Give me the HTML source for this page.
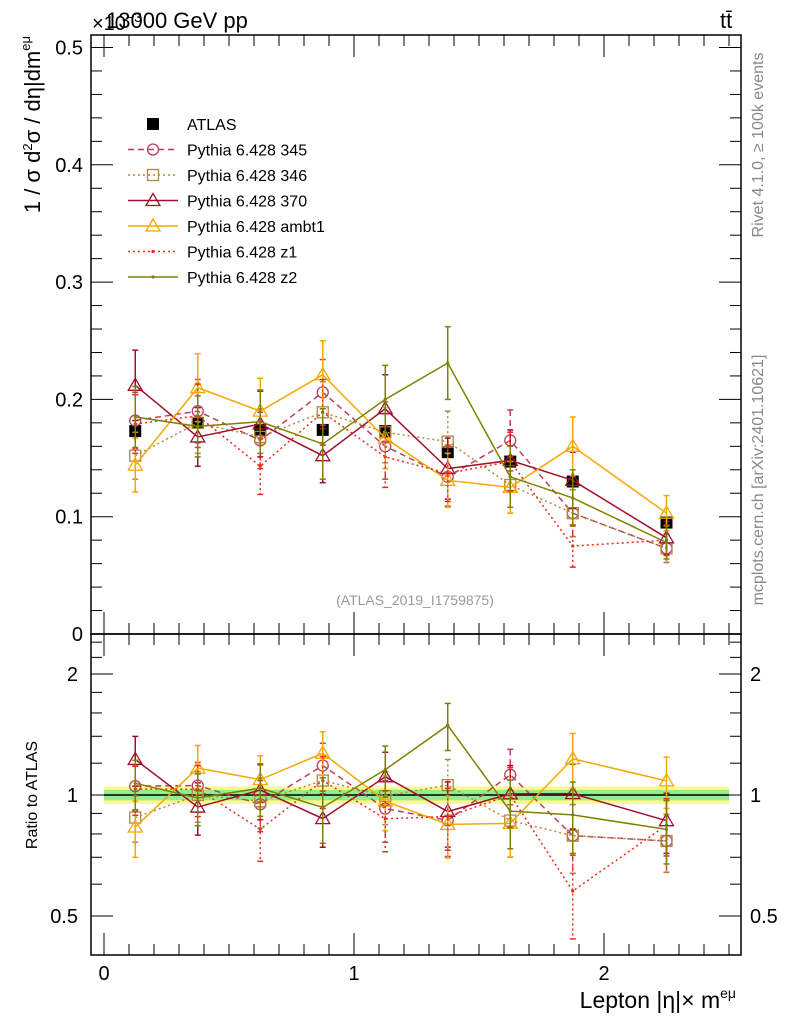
<!DOCTYPE html>
<html><head><meta charset="utf-8"><style>
body{margin:0;background:#fff}
svg{display:block;font-family:"Liberation Sans",sans-serif}
</style></head><body>
<svg id="c" width="786" height="1024" viewBox="0 0 786 1024" xmlns="http://www.w3.org/2000/svg"></svg>
<script>
const xCenters=[0.125,0.375,0.625,0.875,1.125,1.375,1.625,1.875,2.25];
const xHalf=[0.125,0.125,0.125,0.125,0.125,0.125,0.125,0.125,0.25];
const atlas=[0.173,0.180,0.174,0.174,0.173,0.155,0.147,0.130,0.095];
const atlasErr=[0.004,0.004,0.004,0.004,0.004,0.004,0.004,0.004,0.004];
const p345=[0.182,0.190,0.165,0.206,0.160,0.134,0.165,0.103,0.073];
const p345e=[0.024,0.027,0.024,0.028,0.028,0.025,0.026,0.02,0.012];
const p346=[0.152,0.180,0.168,0.189,0.172,0.164,0.127,0.103,0.073];
const p346e=[0.02,0.026,0.024,0.026,0.026,0.026,0.024,0.02,0.012];
const p370=[0.212,0.168,0.179,0.152,0.192,0.141,0.148,0.131,0.082];
const p370e=[0.03,0.025,0.028,0.023,0.029,0.026,0.026,0.024,0.014];
const pambt1=[0.144,0.210,0.190,0.221,0.167,0.131,0.125,0.160,0.103];
const pambt1e=[0.023,0.029,0.028,0.029,0.026,0.023,0.022,0.025,0.015];
const pz1=[0.179,0.186,0.143,0.189,0.151,0.137,0.147,0.075,0.080];
const pz1e=[0.025,0.027,0.024,0.028,0.026,0.024,0.025,0.018,0.013];
const pz2=[0.185,0.177,0.181,0.162,0.200,0.231,0.134,0.116,0.078];
const pz2e=[0.026,0.026,0.027,0.03,0.029,0.031,0.026,0.024,0.014];
const mainTicks=[0,0.1,0.2,0.3,0.4,0.5];
const mainTickLabels=["0","0.1","0.2","0.3","0.4","0.5"];
const ratioTicks=[0.5,1,2];
const ratioTickLabels=["0.5","1","2"];
const xTicks=[0,1,2];
const xTickLabels=["0","1","2"];
const series=[
 {name:"Pythia 6.428 345",v:p345,e:p345e,c:"#b8405a",dash:"6,4",m:"circle"},
 {name:"Pythia 6.428 346",v:p346,e:p346e,c:"#b08840",dash:"2,3",m:"square"},
 {name:"Pythia 6.428 370",v:p370,e:p370e,c:"#a0102a",dash:"",m:"tri"},
 {name:"Pythia 6.428 ambt1",v:pambt1,e:pambt1e,c:"#f5a800",dash:"",m:"tri"},
 {name:"Pythia 6.428 z1",v:pz1,e:pz1e,c:"#ee2a1a",dash:"2,3",m:"dot"},
 {name:"Pythia 6.428 z2",v:pz2,e:pz2e,c:"#808000",dash:"",m:"dot"}
];
const NS="http://www.w3.org/2000/svg";
const svg=document.getElementById('c');
function mk(t,a,p){const e=document.createElementNS(NS,t);for(const k in a)e.setAttribute(k,a[k]);(p||svg).appendChild(e);return e;}
const L=91,R=741,T=35,MB=634,RB=955;
const X=v=>104+250*v;
const Y=v=>634-1173*v;
const YR=r=>795-121*Math.log2(r);
const f1=mk('rect',{x:L,y:T,width:R-L,height:MB-T,fill:'none',stroke:'#000','stroke-width':1.5});

const f2=mk('rect',{x:L,y:MB,width:R-L,height:RB-MB,fill:'none',stroke:'#000','stroke-width':1.5});

for(let v=0;v<=0.5001;v+=0.02){const y=Y(v);const big=Math.abs(v*10-Math.round(v*10))<1e-6;
 mk('line',{x1:L,x2:L+(big?22:11),y1:y,y2:y,stroke:'#000'});mk('line',{x1:R,x2:R-(big?22:11),y1:y,y2:y,stroke:'#000'});}
mainTicks.forEach((v,i)=>{const t=mk('text',{x:83,y:Y(v)+7,'text-anchor':'end','font-size':20});t.textContent=mainTickLabels[i];
 });
for(let v=0;v<=2.55;v+=0.1){const x=X(v);const big=Math.abs(v-Math.round(v))<1e-6;const h=big?22:11;
 mk('line',{x1:x,x2:x,y1:T,y2:T+h,stroke:'#000'});mk('line',{x1:x,x2:x,y1:MB,y2:MB-h,stroke:'#000'});
 mk('line',{x1:x,x2:x,y1:MB,y2:MB+h,stroke:'#000'});mk('line',{x1:x,x2:x,y1:RB,y2:RB-h,stroke:'#000'});}
xTicks.forEach((v,i)=>{const t=mk('text',{x:X(v),y:980,'text-anchor':'middle','font-size':20});t.textContent=xTickLabels[i];
 });
[0.5,0.6,0.7,0.8,0.9,1,1.2,1.4,1.6,1.8,2,2.2,2.4].forEach(r=>{const y=YR(r);const big=ratioTicks.includes(r);
 mk('line',{x1:L,x2:L+(big?22:11),y1:y,y2:y,stroke:'#000'});mk('line',{x1:R,x2:R-(big?22:11),y1:y,y2:y,stroke:'#000'});});
ratioTicks.forEach((r,i)=>{let t=mk('text',{x:78,y:YR(r)+7,'text-anchor':'end','font-size':20});t.textContent=ratioTickLabels[i];
 
 t=mk('text',{x:750,y:YR(r)+7,'font-size':20});t.textContent=ratioTickLabels[i];
 });
const gb=mk('g',{});
xCenters.forEach((x,i)=>{const x0=X(x-xHalf[i]),x1=X(x+xHalf[i]);
 mk('rect',{x:x0,width:x1-x0,y:YR(1.05),height:YR(0.95)-YR(1.05),fill:'#fbfa8c'},gb);
 mk('rect',{x:x0,width:x1-x0,y:YR(1.03),height:YR(0.97)-YR(1.03),fill:'#90ee90'},gb);});
mk('line',{x1:X(0),x2:X(2.5),y1:YR(1),y2:YR(1),stroke:'#000','stroke-width':1.5});
function marker(m,x,y,c,g){
 if(m==='circle')mk('circle',{cx:x,cy:y,r:5.5,fill:'none',stroke:c,'stroke-width':1.3},g);
 else if(m==='square')mk('rect',{x:x-5.5,y:y-5.5,width:11,height:11,fill:'none',stroke:c,'stroke-width':1.3},g);
 else if(m==='tri')mk('polygon',{points:`${x},${y-7} ${x-7},${y+5} ${x+7},${y+5}`,fill:'none',stroke:c,'stroke-width':1.3},g);
 else mk('circle',{cx:x,cy:y,r:1.6,fill:c},g);}
function drawSeries(s,ratio){
 const g=mk('g',{});
 
 
 const fy=ratio?(i=>YR(s.v[i]/atlas[i])):(i=>Y(s.v[i]));
 const fe=ratio?((i,k)=>YR((s.v[i]+k*s.e[i])/atlas[i])):((i,k)=>Y(s.v[i]+k*s.e[i]));
 mk('polyline',{points:xCenters.map((x,i)=>X(x)+','+fy(i)).join(' '),fill:'none',stroke:s.c,'stroke-width':1.5,'stroke-dasharray':s.dash},g);
 xCenters.forEach((x,i)=>{const px=X(x);
  mk('line',{x1:px,x2:px,y1:fe(i,1),y2:fe(i,-1),stroke:s.c,'stroke-width':1.5,'stroke-dasharray':s.dash},g);
  [1,-1].forEach(k=>mk('line',{x1:px-3,x2:px+3,y1:fe(i,k),y2:fe(i,k),stroke:s.c,'stroke-width':1.5},g));
  marker(s.m,px,fy(i),s.c,g);});
}
const ga=mk('g',{});
xCenters.forEach((x,i)=>{mk('rect',{x:X(x)-6,y:Y(atlas[i])-6,width:12,height:12,fill:'#000'},ga);
 mk('line',{x1:X(x),x2:X(x),y1:Y(atlas[i]+atlasErr[i]),y2:Y(atlas[i]-atlasErr[i]),stroke:'#000'},ga);});
series.forEach(s=>{drawSeries(s,false);drawSeries(s,true);});
const lg=mk('g',{});
const rows=[{name:"ATLAS",c:"#000",dash:"",m:"atlas"}].concat(series);
rows.forEach((s,i)=>{const y=124+25.5*i;
 if(s.m==='atlas')mk('rect',{x:147,y:y-6,width:12,height:12,fill:'#000'},lg);
 else{mk('line',{x1:128,x2:178,y1:y,y2:y,stroke:s.c,'stroke-width':1.5,'stroke-dasharray':s.dash},lg);marker(s.m,153,y,s.c,lg);}
 const t=mk('text',{x:187,y:y+6,'font-size':16},lg);t.textContent=s.name;
 });
function txt(s,a,name){const t=mk('text',a);t.innerHTML=s;return t;}
txt('×10<tspan font-size="14" dy="-8">−3</tspan>',{x:92,y:30,'font-size':20},'y-scale-factor');
txt('13000 GeV pp',{x:106,y:28,'font-size':22},'energy-label');
txt('t<tspan>t̄</tspan>',{x:720,y:28,'font-size':22},'process-label');
txt('(ATLAS_2019_I1759875)',{x:415,y:605,'text-anchor':'middle','font-size':14,fill:'#999'},'analysis-id');
txt('Rivet 4.1.0, ≥ 100k events',{x:0,y:0,'font-size':16,fill:'#888','text-anchor':'middle',transform:'translate(763,145) rotate(-90)'},'rivet-label');
txt('mcplots.cern.ch [arXiv:2401.10621]',{x:0,y:0,'font-size':16,fill:'#888','text-anchor':'middle',transform:'translate(763,480) rotate(-90)'},'mcplots-label');
txt('1 / σ  d<tspan font-size="13" dy="-8">2</tspan><tspan dy="8">σ / dη|dm</tspan><tspan font-size="13" dy="-10">eμ</tspan>',{x:0,y:0,'font-size':22,'text-anchor':'end',transform:'translate(40,36) rotate(-90)'},'y-axis-title');
txt('Ratio to ATLAS',{x:0,y:0,'font-size':16,'text-anchor':'middle',transform:'translate(37,795) rotate(-90)'},'ratio-axis-title');
txt('Lepton |η|× m<tspan font-size="14" dy="-10">eμ</tspan>',{x:736,y:1008,'font-size':23,'text-anchor':'end'},'x-axis-title');
</script>
</body></html>
